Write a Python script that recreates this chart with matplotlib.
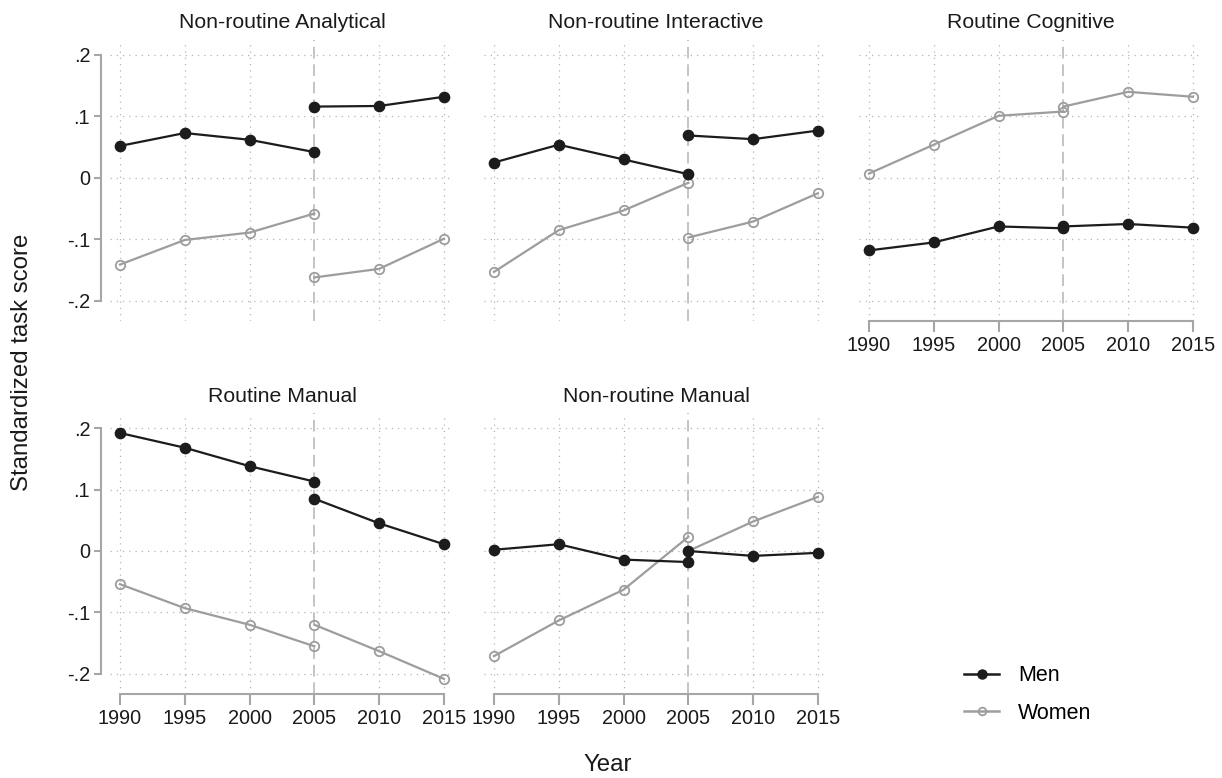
import matplotlib
matplotlib.use("Agg")
import matplotlib.pyplot as plt

plt.rcParams["font.family"] = ["Liberation Sans", "DejaVu Sans"]

# two survey waves, break at 2005
years_early = [1990, 1995, 2000, 2005]
years_late = [2005, 2010, 2015]

panel_titles = ["Non-routine Analytical", "Non-routine Interactive",
                "Routine Cognitive", "Routine Manual", "Non-routine Manual"]

nra_men_early = [0.052, 0.073, 0.062, 0.042]
nra_men_late = [0.116, 0.117, 0.132]
nra_women_early = [-0.141, -0.101, -0.089, -0.058]
nra_women_late = [-0.162, -0.148, -0.099]

nri_men_early = [0.025, 0.054, 0.030, 0.006]
nri_men_late = [0.069, 0.063, 0.077]
nri_women_early = [-0.153, -0.085, -0.053, -0.008]
nri_women_late = [-0.097, -0.071, -0.025]

rc_men_early = [-0.118, -0.105, -0.079, -0.082]
rc_men_late = [-0.079, -0.075, -0.081]
rc_women_early = [0.007, 0.054, 0.101, 0.108]
rc_women_late = [0.116, 0.140, 0.132]

rm_men_early = [0.192, 0.168, 0.138, 0.113]
rm_men_late = [0.085, 0.045, 0.011]
rm_women_early = [-0.054, -0.093, -0.120, -0.155]
rm_women_late = [-0.120, -0.163, -0.208]

nrm_men_early = [0.002, 0.011, -0.014, -0.018]
nrm_men_late = [0.000, -0.008, -0.003]
nrm_women_early = [-0.171, -0.113, -0.063, 0.023]
nrm_women_late = [0.000, 0.048, 0.088]

men_series = [(nra_men_early, nra_men_late), (nri_men_early, nri_men_late),
              (rc_men_early, rc_men_late), (rm_men_early, rm_men_late),
              (nrm_men_early, nrm_men_late)]
women_series = [(nra_women_early, nra_women_late), (nri_women_early, nri_women_late),
                (rc_women_early, rc_women_late), (rm_women_early, rm_women_late),
                (nrm_women_early, nrm_women_late)]

yticks = [-0.2, -0.1, 0, 0.1, 0.2]
ytick_labels = ["-.2", "-.1", "0", ".1", ".2"]
xticks = [1990, 1995, 2000, 2005, 2010, 2015]

MEN = "#1c1c1c"
WOMEN = "#9d9d9d"
AXC = "#a6a6a6"
GRID = "#b4b4b4"
TXT = "#1a1a1a"

W, H = 1222, 778
fig = plt.figure(figsize=(W / 100, H / 100), dpi=100)

col_left = [109.6, 483.6, 858.6]
ax_w = 344.7
row_top = [39.6, 412.7]
ax_h = 281.5

# (row, col, show y axis, show x axis)
layout = [(0, 0, True, False), (0, 1, False, False), (0, 2, False, True),
          (1, 0, True, True), (1, 1, False, True)]

for i, (r, c, show_y, show_x) in enumerate(layout):
    left = col_left[c] / W
    bottom = 1 - (row_top[r] + ax_h) / H
    ax = fig.add_axes([left, bottom, ax_w / W, ax_h / H])
    ax.set_xlim(1989.2, 2015.8)
    ax.set_ylim(-0.233, 0.225)

    for y in yticks:
        ax.axhline(y, color=GRID, lw=0.9, ls=(0, (1, 4)), zorder=0)
    for x in xticks:
        if x != 2005:
            ax.axvline(x, color=GRID, lw=0.9, ls=(0, (1, 4)), zorder=0)
    ax.axvline(2005, color="#c4c4c4", lw=1.4, ls=(0, (6, 3)), zorder=1)

    me, ml = men_series[i]
    we, wl = women_series[i]
    for xs, ys in ((years_early, we), (years_late, wl)):
        ax.plot(xs, ys, "-", color=WOMEN, lw=1.6, marker="o", ms=6.8,
                mfc="none", mec=WOMEN, mew=1.3, zorder=3)
    for xs, ys in ((years_early, me), (years_late, ml)):
        ax.plot(xs, ys, "-", color=MEN, lw=1.6, marker="o", ms=7.4,
                mfc=MEN, mec=MEN, zorder=4)

    ax.set_title(panel_titles[i], fontsize=15.3, color=TXT, pad=8)

    for s in ("top", "right"):
        ax.spines[s].set_visible(False)
    ax.spines["left"].set_visible(show_y)
    ax.spines["bottom"].set_visible(show_x)
    ax.spines["left"].set_color(AXC)
    ax.spines["bottom"].set_color(AXC)
    ax.spines["left"].set_linewidth(1.5)
    ax.spines["bottom"].set_linewidth(1.5)
    ax.spines["left"].set_bounds(-0.2, 0.2)
    ax.spines["bottom"].set_bounds(1990, 2015)
    ax.spines["left"].set_position(("outward", 6))

    ax.set_yticks(yticks)
    ax.set_xticks(xticks)
    if show_y:
        ax.set_yticklabels(ytick_labels)
        ax.tick_params(axis="y", length=5, width=1.5, color=AXC,
                       labelsize=14.3, labelcolor=TXT, pad=3)
    else:
        ax.tick_params(axis="y", left=False, labelleft=False)
    if show_x:
        ax.tick_params(axis="x", length=8, width=1.5, color=AXC,
                       labelsize=14.3, labelcolor=TXT, pad=3)
    else:
        ax.tick_params(axis="x", bottom=False, labelbottom=False)

fig.text(22 / W, 1 - 362 / H, "Standardized task score", rotation=90,
         ha="center", va="center", fontsize=17.3, color=TXT)
fig.text(608 / W, 1 - 765 / H, "Year", ha="center", va="center",
         fontsize=17.3, color=TXT)

# legend in the empty sixth cell
lax = fig.add_axes([945 / W, 1 - 732 / H, 200 / W, 75 / H])
lax.axis("off")
lax.plot([], [], "-", color=MEN, lw=1.8, marker="o", ms=6.5, label="Men")
lax.plot([], [], "-", color=WOMEN, lw=1.8, marker="o", ms=5.5,
         mfc="none", mew=1.3, label="Women")
lax.legend(loc="center left", frameon=False, fontsize=15.5, handlelength=1.6,
           labelspacing=0.75, handletextpad=0.9)

fig.savefig("out.png", dpi=100)
